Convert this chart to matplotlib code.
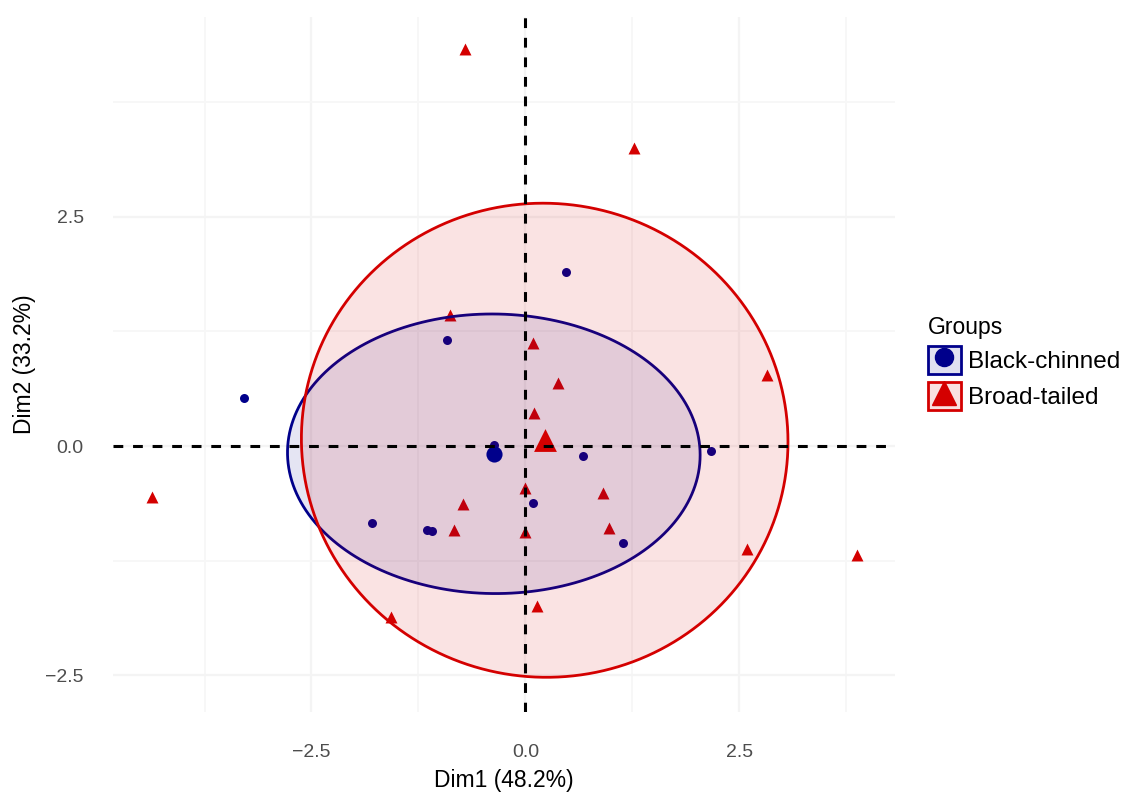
import numpy as np
import matplotlib.pyplot as plt
from matplotlib.colors import to_rgba
from matplotlib.lines import Line2D
from matplotlib.patches import Patch

plt.rcParams['font.family'] = ['Liberation Sans', 'DejaVu Sans']

# PCA scores, one pair of arrays per group
GROUPS = ['Black-chinned', 'Broad-tailed']
bc_x = [0.48, -0.92, -3.29, -1.79, -0.37, 0.67, 0.09, -1.15, -1.09, 1.14, 2.17]
bc_y = [1.90, 1.16, 0.53, -0.84, 0.01, -0.11, -0.62, -0.91, -0.93, -1.06, -0.05]
bt_x = [-0.71, 1.27, -0.88, 0.09, -4.36, 0.38, 0.10, 0.00, -0.73, 0.91,
        -0.84, 0.00, 0.98, 0.13, -1.57, 2.82, 2.59, 3.88]
bt_y = [4.33, 3.25, 1.43, 1.12, -0.56, 0.69, 0.36, -0.46, -0.63, -0.51,
        -0.91, -0.94, -0.89, -1.74, -1.86, 0.78, -1.12, -1.19]

TICKS = [-2.5, 0.0, 2.5]
TICK_LABELS = ['\u22122.5', '0.0', '2.5']
X_TITLE = 'Dim1 (48.2%)'
Y_TITLE = 'Dim2 (33.2%)'
ELLIPSE_LEVEL = 0.68

BLUE = '#00008B'
RED = '#D40000'
ALPHAS = {BLUE: 0.10, RED: 0.11}


def norm_ellipse(x, y, level, npts=200):
    """Same thing stat_ellipse(type='norm') does: mean + radius * chol(cov)."""
    x = np.asarray(x)
    y = np.asarray(y)
    d2 = len(x) - 1
    # F quantile with 2 numerator df has a closed form
    qf = d2 / 2 * ((1 - level) ** (-2 / d2) - 1)
    radius = np.sqrt(2 * qf)
    chol = np.linalg.cholesky(np.cov(x, y))
    t = np.linspace(0, 2 * np.pi, npts)
    circle = np.column_stack([np.cos(t), np.sin(t)])
    return circle @ chol.T * radius + [x.mean(), y.mean()]


fig = plt.figure(figsize=(11.36, 7.99), dpi=100)
W, H = 1136, 799
ax = fig.add_axes([113 / W, 1 - 712 / H, (895 - 113) / W, (712 - 17) / H])
ax.set_xlim(-4.82, 4.32)
ax.set_ylim(-2.90, 4.68)

for s in ax.spines.values():
    s.set_visible(False)
ax.set_xticks(TICKS)
ax.set_xticklabels(TICK_LABELS)
ax.set_yticks(TICKS)
ax.set_yticklabels(TICK_LABELS)
ax.set_xticks([-3.75, -1.25, 1.25, 3.75], minor=True)
ax.set_yticks([-1.25, 1.25, 3.75], minor=True)
ax.tick_params(which='both', length=0, labelsize=14, labelcolor='#4D4D4D')
ax.tick_params(axis='x', pad=23)
ax.tick_params(axis='y', pad=21)
ax.grid(which='major', color='#F4F4F4', linewidth=1.6, zorder=0)
ax.grid(which='minor', color='#F7F7F7', linewidth=1.3, zorder=0)
ax.set_axisbelow(True)

# individual points
ax.scatter(bc_x, bc_y, s=42, marker='o', color=BLUE, linewidths=0, zorder=2)
ax.scatter(bt_x, bt_y, s=74, marker='^', color=RED, linewidths=0, zorder=2)

# concentration ellipses
for gx, gy, col in [(bc_x, bc_y, BLUE), (bt_x, bt_y, RED)]:
    pts = norm_ellipse(gx, gy, ELLIPSE_LEVEL)
    ax.fill(pts[:, 0], pts[:, 1], facecolor=to_rgba(col, ALPHAS[col]),
            edgecolor=col, linewidth=2.0, zorder=3)

# group means
ax.scatter([np.mean(bc_x)], [np.mean(bc_y)], s=135, marker='o', color=BLUE,
           linewidths=0, zorder=4)
ax.scatter([np.mean(bt_x)], [np.mean(bt_y)], s=270, marker='^', color=RED,
           linewidths=0, zorder=4)

ax.axhline(0, color='black', linewidth=2.2, dashes=(3.2, 3.2), zorder=5)
ax.axvline(0, color='black', linewidth=2.2, dashes=(3.2, 3.2), zorder=5)

fig.text(504 / W, 1 - 781 / H, X_TITLE, ha='center', va='center', fontsize=16.5)
fig.text(24 / W, 1 - 364 / H, Y_TITLE, ha='center', va='center', fontsize=16.5,
         rotation=90)

handles = [
    (Patch(facecolor=to_rgba(BLUE, 0.12), edgecolor=BLUE, linewidth=2.0),
     Line2D([], [], marker='o', color=BLUE, linestyle='', markersize=13)),
    (Patch(facecolor=to_rgba(RED, 0.12), edgecolor=RED, linewidth=2.0),
     Line2D([], [], marker='^', color=RED, linestyle='', markersize=17)),
]
fig.legend(handles, GROUPS, title='Groups', loc='upper left',
           bbox_to_anchor=(928 / W, 1 - 316 / H), bbox_transform=fig.transFigure,
           frameon=False, fontsize=17.5, title_fontsize=16.5,
           handlelength=1.35, handleheight=1.4, handletextpad=0.3,
           labelspacing=0.3, borderpad=0, borderaxespad=0, alignment='left')

fig.savefig('out.png', dpi=100)
